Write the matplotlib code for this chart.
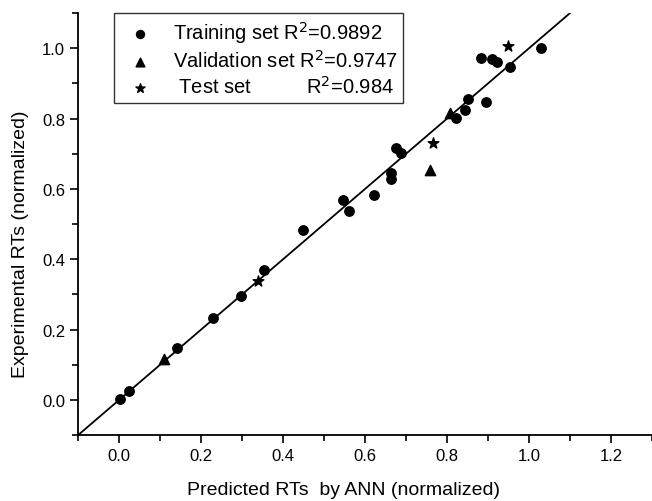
import numpy as np
import matplotlib.pyplot as plt

plt.rcParams['font.family'] = ['Liberation Sans', 'DejaVu Sans']

# Training set (predicted, experimental)
train_x = [0.002, 0.023, 0.141, 0.228, 0.297, 0.353, 0.449, 0.546, 0.560, 0.622,
           0.663, 0.664, 0.676, 0.688, 0.821, 0.843, 0.852, 0.894, 0.882, 0.909,
           0.922, 0.954, 1.029]
train_y = [0.002, 0.025, 0.148, 0.233, 0.294, 0.368, 0.483, 0.569, 0.538, 0.583,
           0.646, 0.629, 0.715, 0.701, 0.802, 0.824, 0.856, 0.847, 0.971, 0.968,
           0.960, 0.947, 1.002]

# Validation set
val_x = [0.110, 0.759, 0.808]
val_y = [0.116, 0.655, 0.815]

# Test set
test_x = [0.339, 0.766, 0.949]
test_y = [0.337, 0.731, 1.005]

fig = plt.figure(figsize=(6.52, 5.02), dpi=100)
ax = fig.add_axes([0.120, 0.1315, 0.880, 0.8405])

ax.plot([-0.1, 1.1], [-0.1, 1.1], color='black', lw=1.3, zorder=1)
l1 = ax.scatter(train_x, train_y, s=46, marker='o', color='black', zorder=3)
l2 = ax.scatter(val_x, val_y, s=55, marker='^', color='black', zorder=3)
l3 = ax.scatter(test_x, test_y, s=65, marker='*', color='black', zorder=3)

ax.set_xlim(-0.1, 1.3)
ax.set_ylim(-0.1, 1.1)
ax.set_xticks(np.arange(0, 1.21, 0.2))
ax.set_yticks(np.arange(0, 1.01, 0.2))
ax.set_xticks(np.arange(-0.1, 1.31, 0.1), minor=True)
ax.set_yticks(np.arange(-0.1, 1.11, 0.1), minor=True)
ax.xaxis.set_major_formatter(plt.FormatStrFormatter('%.1f'))
ax.yaxis.set_major_formatter(plt.FormatStrFormatter('%.1f'))
ax.tick_params(which='major', length=6, width=1.2, labelsize=12, direction='out')
ax.tick_params(which='minor', length=4, width=1.2, direction='out')
ax.spines['top'].set_visible(False)
ax.spines['right'].set_visible(False)
ax.spines['left'].set_linewidth(1.3)
ax.spines['bottom'].set_linewidth(1.3)

ax.set_xlabel('Predicted RTs  by ANN (normalized)', fontsize=14, labelpad=10)
ax.xaxis.set_label_coords(0.462, -0.11)
ax.set_ylabel('Experimental RTs (normalized)', fontsize=14)
ax.yaxis.set_label_coords(-0.085, 0.455)

leg = ax.legend([l1, l2, l3],
                ['Training set R$^2$=0.9892', 'Validation set R$^2$=0.9747',
                 ' Test set          R$^2$=0.984'],
                loc='upper left', bbox_to_anchor=(0.175, 0.972),
                bbox_transform=fig.transFigure, fontsize=14.5,
                frameon=True, fancybox=False, borderaxespad=0,
                handletextpad=0.6, labelspacing=0.2, borderpad=0.3,
                markerscale=0.85)
leg.get_frame().set_edgecolor('black')
leg.get_frame().set_linewidth(1.0)

fig.savefig('out.png', dpi=100)
